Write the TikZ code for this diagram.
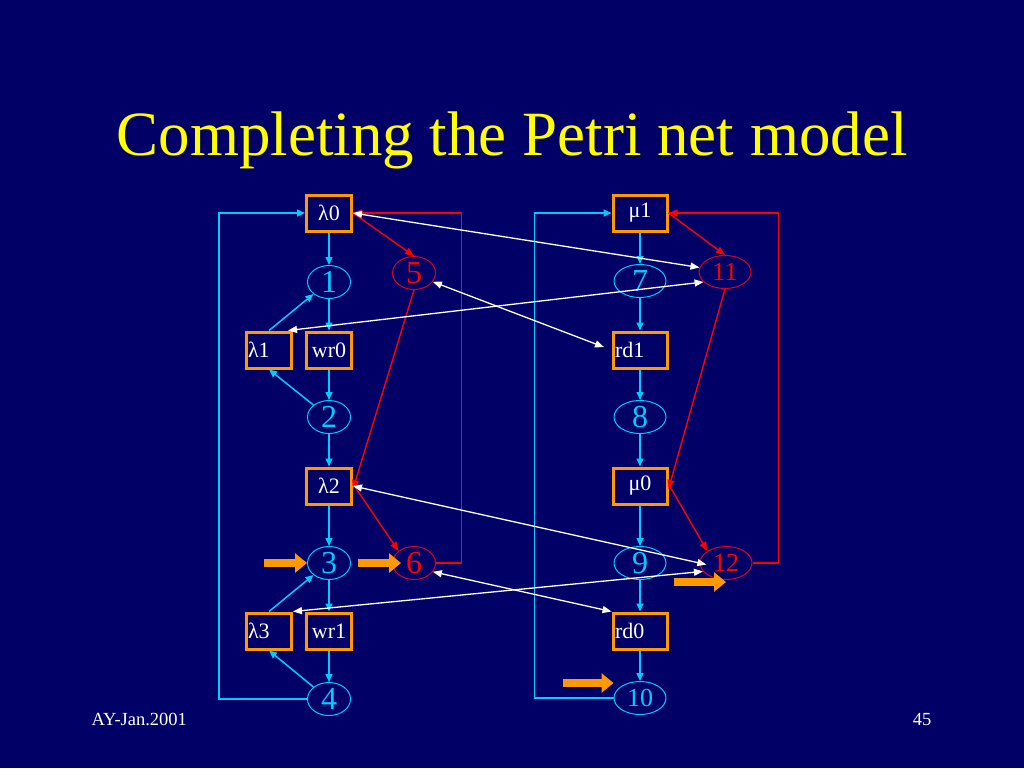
\documentclass[tikz,border=0pt]{standalone}
\usepackage{fontspec}
\setmainfont{Liberation Serif}
\usetikzlibrary{arrows.meta,shapes.geometric,calc}
\definecolor{bg}{RGB}{0,0,102}
\definecolor{cy}{RGB}{0,204,255}
\definecolor{orng}{RGB}{255,153,0}
\definecolor{rd}{RGB}{255,0,0}
\definecolor{rdb}{RGB}{220,0,30}
\definecolor{ttl}{RGB}{255,255,0}
\begin{document}
\begin{tikzpicture}[x=1pt,y=-1pt,
  trans/.style={draw=orng,line width=3pt,minimum width=45pt,minimum height=36pt,inner sep=0pt,text=white,font=\fontsize{22}{22}\selectfont},
  transR/.style={trans,minimum width=54pt},
  tleft/.style={text width=42pt,align=left},
  tleftR/.style={text width=50pt,align=left},
  placeL/.style={ellipse,draw=cy,line width=1pt,minimum width=43pt,minimum height=33pt,inner sep=0pt,text=cy,font=\fontsize{32}{32}\selectfont},
  placeR/.style={placeL,minimum width=52pt},
  redplaceL/.style={placeL,draw=rdb,text=rd},
  redplaceR/.style={placeR,draw=rdb,text=rd,font=\fontsize{26}{26}\selectfont},
  cyarr/.style={draw=cy,line width=1.5pt,-{Triangle[length=8pt,width=7pt]}},
  redarr/.style={draw=rd,line width=1.4pt,-{Triangle[length=9pt,width=7pt]}},
  whitearr/.style={draw=white,line width=1.3pt,{Triangle[length=9pt,width=7pt]}-{Triangle[length=9pt,width=7pt]}},
  tok/.style={draw=orng,line width=8pt,-{Triangle[length=12pt,width=19pt]}}
]
\fill[bg] (0,0) rectangle (1024,768);
\useasboundingbox (0,0) rectangle (1024,768);

\node[text=ttl,font=\fontsize{63}{63}\selectfont,anchor=base] (title) at (512,155) {Completing the Petri net model};
\node[text=white,font=\fontsize{18.5}{18.5}\selectfont,anchor=base west] (foot) at (88,725) {AY-Jan.2001};
\node[text=white,font=\fontsize{18.5}{18.5}\selectfont,anchor=base east] (pnum) at (935,725) {45};

% left process
\node[trans] (L0) at (329,213) {λ0};
\node[placeL] (P1) at (329,282) {1};
\node[redplaceL] (P5) at (414,273) {5};
\node[trans,tleft] (L1) at (269,350) {λ1};
\node[trans] (WR0) at (329,350) {wr0};
\node[placeL] (P2) at (329,417) {2};
\node[trans] (L2) at (329,486) {λ2};
\node[placeL] (P3) at (329,563) {3};
\node[redplaceL] (P6) at (414,563) {6};
\node[trans,tleft] (L3) at (269,631) {λ3};
\node[trans] (WR1) at (329,631) {wr1};
\node[placeL] (P4) at (329,699) {4};

% right process
\node[transR] (M1) at (640,213) {μ1};
\node[placeR] (P7) at (640,281) {7};
\node[redplaceR] (P11) at (725,272) {11};
\node[transR,tleftR] (RD1) at (640,350) {rd1};
\node[placeR] (P8) at (640,417) {8};
\node[transR] (M0) at (640,486) {μ0};
\node[placeR] (P9) at (640,563) {9};
\node[redplaceR] (P12) at (726,563) {12};
\node[transR,tleftR] (RD0) at (640,631) {rd0};
\node[placeR,font=\fontsize{26}{26}\selectfont] (P10) at (640,698) {10};

% left cyan arcs
\draw[cyarr] (L0) -- (P1);
\draw[cyarr] (P1) -- (WR0);
\draw[cyarr] (L1.north) -- (P1.south west);
\draw[cyarr] (P2.north west) -- (L1.south);
\draw[cyarr] (WR0) -- (P2);
\draw[cyarr] (P2) -- (L2);
\draw[cyarr] (L2) -- (P3);
\draw[cyarr] (P3) -- (WR1);
\draw[cyarr] (L3.north) -- (P3.south west);
\draw[cyarr] (P4.north west) -- (L3.south);
\draw[cyarr] (WR1) -- (P4);
\draw[cyarr] (P4.west) -| ([xshift=-86pt]L0.west) -- (L0.west);

% right cyan arcs
\draw[cyarr] (M1) -- (P7);
\draw[cyarr] (P7) -- (RD1);
\draw[cyarr] (RD1) -- (P8);
\draw[cyarr] (P8) -- (M0);
\draw[cyarr] (M0) -- (P9);
\draw[cyarr] (P9) -- (RD0);
\draw[cyarr] (RD0) -- (P10);
\draw[cyarr] (P10.west) -| ([xshift=-77pt]M1.west) -- (M1.west);

% red arcs
\draw[redarr] (L0.east) -- (P5.north);
\draw[redarr] (P5.south) -- ([yshift=-3pt]L2.east);
\draw[redarr] ([yshift=2pt]L2.east) -- (P6.north west);
\draw[redarr] (P6.east) -| ([xshift=108.5pt]L0.east) -- (L0.east);
\draw[redarr] (M1.east) -- (P11.north);
\draw[redarr] (P11.south) -- ([yshift=-3pt]M0.east);
\draw[redarr] ([yshift=2pt]M0.east) -- (P12.north west);
\draw[redarr] (P12.east) -| ([xshift=110pt]M1.east) -- (M1.east);

% white read arcs
\draw[whitearr] (L0.east) -- (P11.170);
\draw[whitearr] ([xshift=-5pt]L1.north east) -- (P11.205);
\draw[whitearr,shorten >=8pt] (P5.-25) -- (RD1.west);
\draw[whitearr,shorten >=-7pt] (L2.east) -- (P12.west);
\draw[whitearr] (L3.north east) -- (P12.200);
\draw[whitearr] (P6.-25) -- (RD0.north west);

% tokens
\coordinate (t3) at (264,563);
\coordinate (t6) at (358,563);
\coordinate (t12) at (674,582);
\coordinate (t10) at (563,683);
\draw[tok] (t3) -- (P3.west);
\draw[tok] (t6) -- ([xshift=9pt]P6.west);
\draw[tok] (t12) -- (t12 -| P12.center);
\draw[tok] (t10) -- (t10 -| P10.west);
\end{tikzpicture}
\end{document}
